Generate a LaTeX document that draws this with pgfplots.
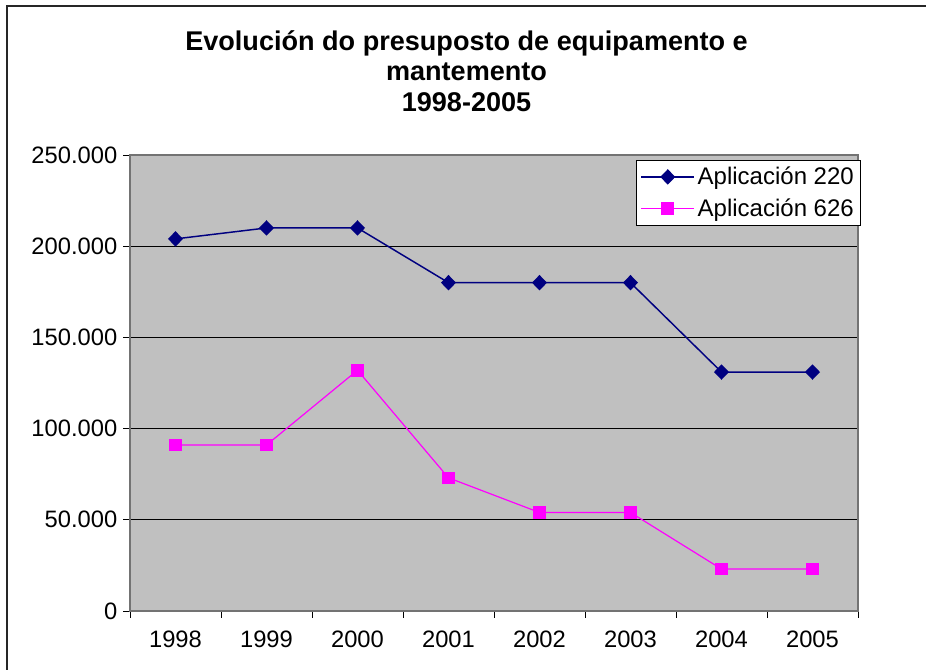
\documentclass[border=0pt]{standalone}
\usepackage{pgfplots}
\pgfplotsset{compat=1.18}
\usepackage{fontspec}
\setmainfont{Liberation Sans}
\definecolor{plotgray}{HTML}{C0C0C0}
\definecolor{navyline}{HTML}{000080}
\definecolor{magline}{HTML}{FF00FF}
\begin{document}
\begin{tikzpicture}[x=1pt,y=1pt]
\path[use as bounding box] (-97.5,-44.25) rectangle (597,458.25);
\draw[line width=1.3pt,black!85] (-92.25,-44.25) -- (-92.25,453.75) -- (597,453.75);
\begin{axis}[
  at={(0,0)}, anchor=south west,
  scale only axis, width=546pt, height=342pt,
  xmin=-0.5, xmax=7.5, ymin=0, ymax=250000,
  axis background/.style={fill=plotgray},
  axis line style={draw=black!55, line width=0.8pt},
  xtick={0,...,7},
  xticklabels={1998,1999,2000,2001,2002,2003,2004,2005},
  major x tick style={draw=none},
  minor xtick={-0.5,0.5,...,7.5},
  minor x tick style={draw=black, line width=0.6pt},
  minor tick length=5pt,
  ytick={0,50000,...,250000},
  major y tick style={draw=black, line width=0.6pt},
  major tick length=5pt,
  tick align=outside,
  tick pos=left,
  scaled y ticks=false,
  ymajorgrids,
  grid style={black, line width=0.6pt},
  /pgf/number format/.cd, fixed, precision=0, 1000 sep={.}, assume math mode=true,
  /pgfplots/.cd,
  ticklabel style={font=\fontsize{17.8}{21}\selectfont},
  xticklabel style={yshift=-6.5pt},
  yticklabel style={xshift=-1pt},
  legend style={at={(rel axis cs:1.004,0.989)}, anchor=north east,
    draw=black, fill=white, line width=0.6pt,
    font=\fontsize{18}{21}\selectfont,
    row sep=5pt, inner xsep=3pt, inner ysep=3pt},
  legend cell align=left,
  legend image code/.code={%
    \draw[mark repeat=2,mark phase=2] plot coordinates {(0cm,0cm) (0.7cm,0cm) (1.4cm,0cm)};},
]
\addplot[color=navyline, line width=1.1pt, mark=diamond*, mark size=5pt, mark options={fill=navyline, xscale=1.3}]
  coordinates {(0,204000) (1,210000) (2,210000) (3,180000) (4,180000) (5,180000) (6,131000) (7,131000)};
\addlegendentry{Aplicación 220}
\addplot[color=magline, line width=0.9pt, mark=square*, mark size=4.3pt, mark options={fill=magline}]
  coordinates {(0,91000) (1,91000) (2,132000) (3,73000) (4,54000) (5,54000) (6,23000) (7,23000)};
\addlegendentry{Aplicación 626}
\end{axis}
\node[anchor=base, font=\bfseries\fontsize{20.3}{24}\selectfont] at (252.4,420) {Evolución do presuposto de equipamento e};
\node[anchor=base, font=\bfseries\fontsize{20.3}{24}\selectfont] at (252.4,397.5) {mantemento};
\node[anchor=base, font=\bfseries\fontsize{20.3}{24}\selectfont] at (252.4,374.25) {1998-2005};
\end{tikzpicture}
\end{document}
